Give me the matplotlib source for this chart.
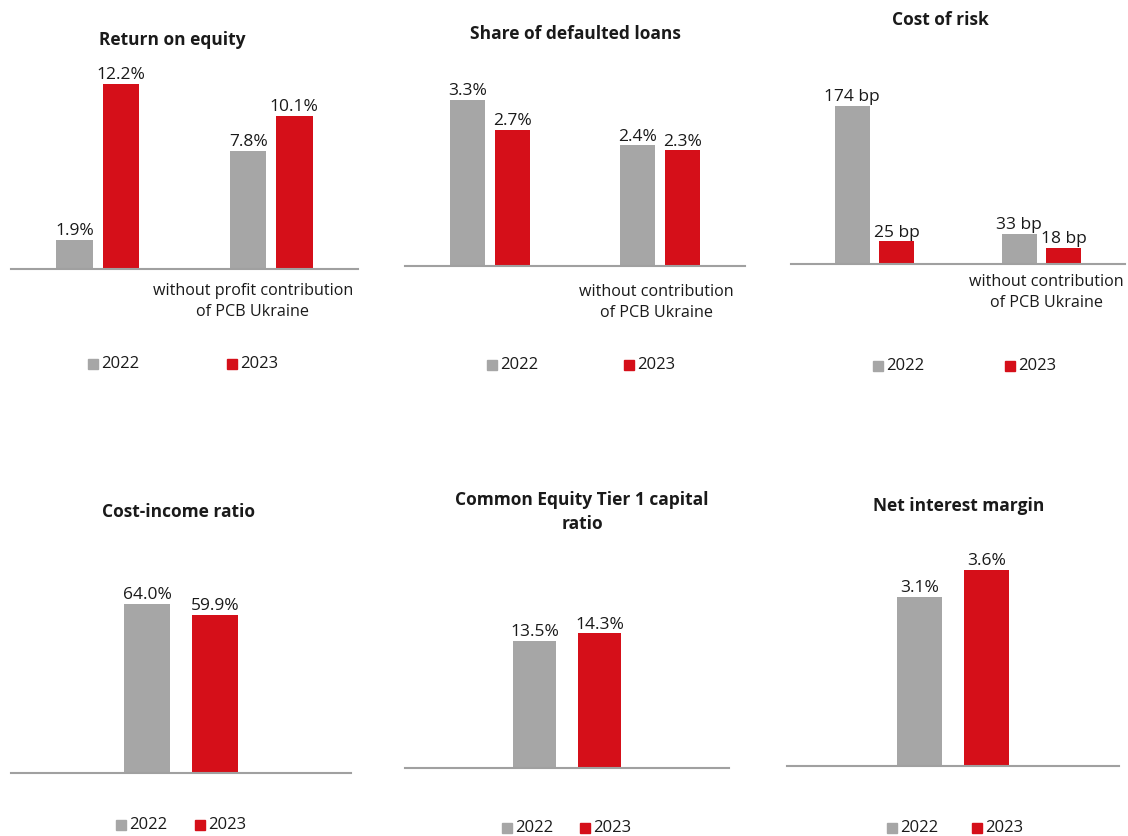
import matplotlib
matplotlib.use("Agg")
import matplotlib.pyplot as plt
from matplotlib.patches import Rectangle

plt.rcParams["font.family"] = ["Open Sans", "DejaVu Sans"]

GRAY = "#a6a6a6"
RED = "#d50f19"
TEXT = "#1a1a1a"
AXIS = "#a0a0a0"
W, H = 1128, 836

years = ["2022", "2023"]

roe_2022 = [1.9, 7.8]
roe_2023 = [12.2, 10.1]
npl_2022 = [3.3, 2.4]
npl_2023 = [2.7, 2.3]
cor_2022 = [174, 33]
cor_2023 = [25, 18]
cir_2022 = [64.0]
cir_2023 = [59.9]
cet1_2022 = [13.5]
cet1_2023 = [14.3]
nim_2022 = [3.1]
nim_2023 = [3.6]


def pct(v):
    return f"{v:.1f}%"


def bp(v):
    return f"{v:d} bp"


# layout in pixels: axis left/right, baseline y, ymax, title centre, legend x's, sub label
panels = [
    dict(title="Return on equity", a=roe_2022, b=roe_2023, fmt=pct,
         ax=(11, 358, 269), ymax=13.19, tpos=(172, 40),
         leg=(88, 227, 364), sub=("without profit contribution\nof PCB Ukraine", 0.893, 10)),
    dict(title="Share of defaulted loans", a=npl_2022, b=npl_2023, fmt=pct,
         ax=(405, 745, 266), ymax=3.976, tpos=(575, 34),
         leg=(487, 624, 365), sub=("without contribution\nof PCB Ukraine", 0.98, 13)),
    dict(title="Cost of risk", a=cor_2022, b=cor_2023, fmt=bp,
         ax=(791, 1125, 264), ymax=220.3, tpos=(940, 20),
         leg=(873, 1005, 366), sub=("without contribution\nof PCB Ukraine", 1.027, 7)),
    dict(title="Cost-income ratio", a=cir_2022, b=cir_2023, fmt=pct,
         ax=(11, 351, 773), ymax=75.7, tpos=(179, 512),
         leg=(116, 195, 825), sub=None),
    dict(title="Common Equity Tier 1 capital\nratio", a=cet1_2022, b=cet1_2023, fmt=pct,
         ax=(405, 729, 768), ymax=21.26, tpos=(582, 512),
         leg=(502, 580, 828), sub=None),
    dict(title="Net interest margin", a=nim_2022, b=nim_2023, fmt=pct,
         ax=(787, 1119, 766), ymax=3.67, tpos=(959, 506),
         leg=(887, 972, 828), sub=None),
]

fig = plt.figure(figsize=(W / 100, H / 100), dpi=100)
fig.patch.set_facecolor("white")

for p in panels:
    left, right, base = p["ax"]
    ax = fig.add_axes([left / W, 1 - base / H, (right - left) / W, 200 / H])
    n = len(p["a"])
    if n == 2:
        width, off = 0.21, 0.133
        ax.set_xlim(-0.5, 1.5)
    else:
        width, off = 0.135, 0.1
        ax.set_xlim(-0.5, 0.5)
    idx = list(range(n))
    b1 = ax.bar([i - off for i in idx], p["a"], width, color=GRAY)
    b2 = ax.bar([i + off for i in idx], p["b"], width, color=RED)
    for bars, vals in ((b1, p["a"]), (b2, p["b"])):
        ax.bar_label(bars, labels=[p["fmt"](v) for v in vals], padding=0.5,
                     fontsize=12.5, color=TEXT)
    ax.set_ylim(0, p["ymax"])
    ax.set_xticks([])
    ax.set_yticks([])
    for s in ("top", "left", "right"):
        ax.spines[s].set_visible(False)
    ax.spines["bottom"].set_color(AXIS)
    ax.spines["bottom"].set_linewidth(1.5)
    ax.patch.set_alpha(0)

    if p["sub"]:
        txt, xpos, gap = p["sub"]
        ax.annotate(txt, xy=(xpos, 0), xycoords=("data", "axes fraction"),
                    xytext=(0, -gap), textcoords="offset points",
                    ha="center", va="top", fontsize=11.6, color=TEXT,
                    linespacing=1.4, annotation_clip=False)

    tx, ty = p["tpos"]
    fig.text(tx / W, 1 - ty / H, p["title"], ha="center", va="center",
             fontsize=12.5, fontweight="bold", color=TEXT, linespacing=1.45)

    lx1, lx2, ly = p["leg"]
    for lx, col, yr in ((lx1, GRAY, years[0]), (lx2, RED, years[1])):
        fig.patches.append(Rectangle((lx / W, 1 - (ly + 5) / H), 10 / W, 10 / H,
                                     transform=fig.transFigure, color=col))
        fig.text((lx + 13) / W, 1 - ly / H, yr, ha="left", va="center",
                 fontsize=12, color=TEXT)

fig.savefig("out.png", dpi=100)
